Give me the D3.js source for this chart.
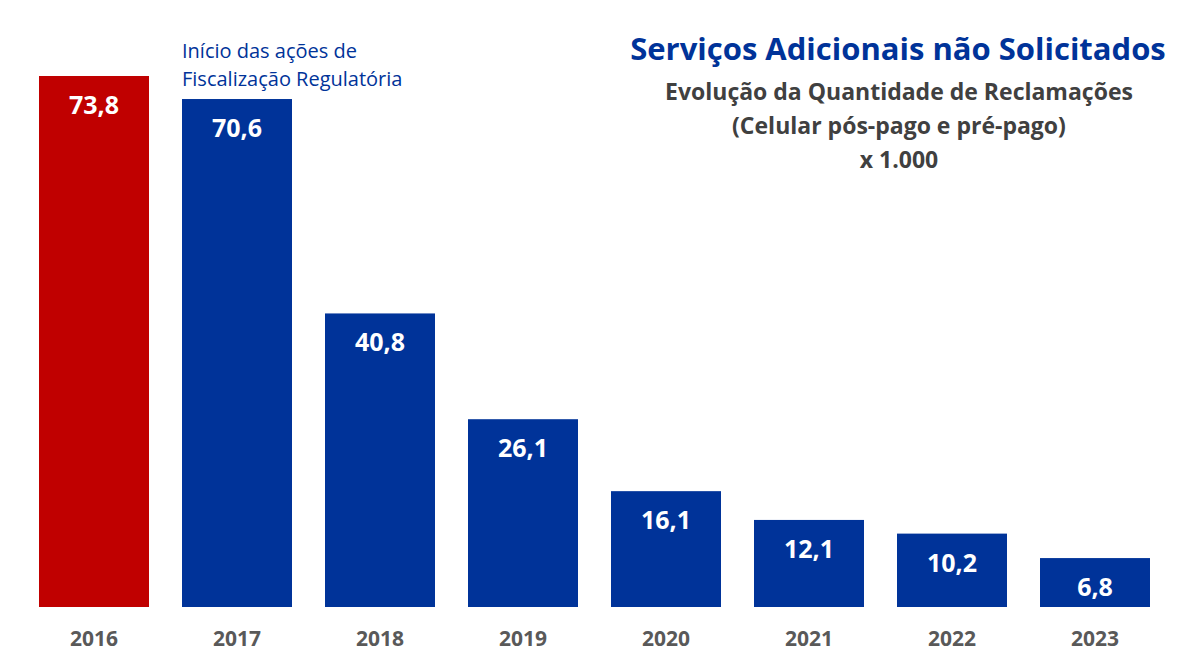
<!DOCTYPE html>
<html>
<head>
<meta charset="utf-8">
<script src="https://cdn.jsdelivr.net/npm/d3@7"></script>
<style>
  body { margin: 0; background: #fff; }
  text { font-family: "Open Sans", Lato, sans-serif; }
</style>
</head>
<body>
<div id="chart"></div>
<script>
// data
let years = ["2016", "2017", "2018", "2019", "2020", "2021", "2022", "2023"]
let values = [73.8, 70.6, 40.8, 26.1, 16.1, 12.1, 10.2, 6.8]
let titleLines = ["Evolução da Quantidade de Reclamações", "(Celular pós-pago e pré-pago)", "x 1.000"]
let noteLines = ["Início das ações de", "Fiscalização Regulatória"]

let width = 1188, height = 668

let svg = d3.select("#chart").append("svg")
svg.attr("width", width)
svg.attr("height", height)

let xScale = d3.scaleBand()
               .domain(years)
               .range([22.5, 1166.5])
               .paddingInner(0.2308)
               .paddingOuter(0.1154)

let yScale = d3.scaleLinear()
               .domain([0, d3.max(values)])
               .range([607, 76])

let fmt = d => d.toFixed(1).replace(".", ",")

// bars
svg.selectAll("rect.bar")
   .data(values)
   .enter()
   .append("rect")
   .attr("class", "bar")
   .attr("x", (d, i) => xScale(years[i]))
   .attr("y", d => yScale(d))
   .attr("width", xScale.bandwidth())
   .attr("height", d => yScale(0) - yScale(d))
   .style("fill", (d, i) => i == 0 ? "#C00000" : "#003399")

// value labels
svg.selectAll("text.val")
   .data(values)
   .enter()
   .append("text")
   .attr("class", "val")
   .attr("x", (d, i) => xScale(years[i]) + xScale.bandwidth() / 2)
   .attr("y", d => yScale(d) + 38)
   .attr("text-anchor", "middle")
   .style("font-size", "25px")
   .style("font-weight", "bold")
   .style("fill", "#fff")
   .text(d => fmt(d))

// x axis labels
let xAxis = d3.axisBottom(xScale).tickSize(0).tickPadding(24)
let gx = svg.append("g")
            .attr("transform", "translate(0,607)")
            .call(xAxis)
gx.select(".domain").remove()
gx.selectAll("text")
  .style("font-family", "'Open Sans', sans-serif")
  .style("font-size", "21px")
  .style("font-weight", "bold")
  .style("fill", "#595959")

// titles
svg.append("text")
   .attr("x", 898)
   .attr("y", 60)
   .attr("text-anchor", "middle")
   .style("font-size", "31px")
   .style("font-weight", "bold")
   .style("fill", "#003399")
   .text("Serviços Adicionais não Solicitados")

svg.selectAll("text.sub")
   .data(titleLines)
   .enter()
   .append("text")
   .attr("class", "sub")
   .attr("x", 899)
   .attr("y", (d, i) => [100, 134, 168][i])
   .attr("text-anchor", "middle")
   .style("font-size", "23px")
   .style("font-weight", "bold")
   .style("fill", "#404040")
   .text(d => d)

// annotation
svg.selectAll("text.note")
   .data(noteLines)
   .enter()
   .append("text")
   .attr("class", "note")
   .attr("x", 182)
   .attr("y", (d, i) => 58 + i * 28)
   .style("font-size", "20px")
   .style("fill", "#003399")
   .text(d => d)
</script>
</body>
</html>
